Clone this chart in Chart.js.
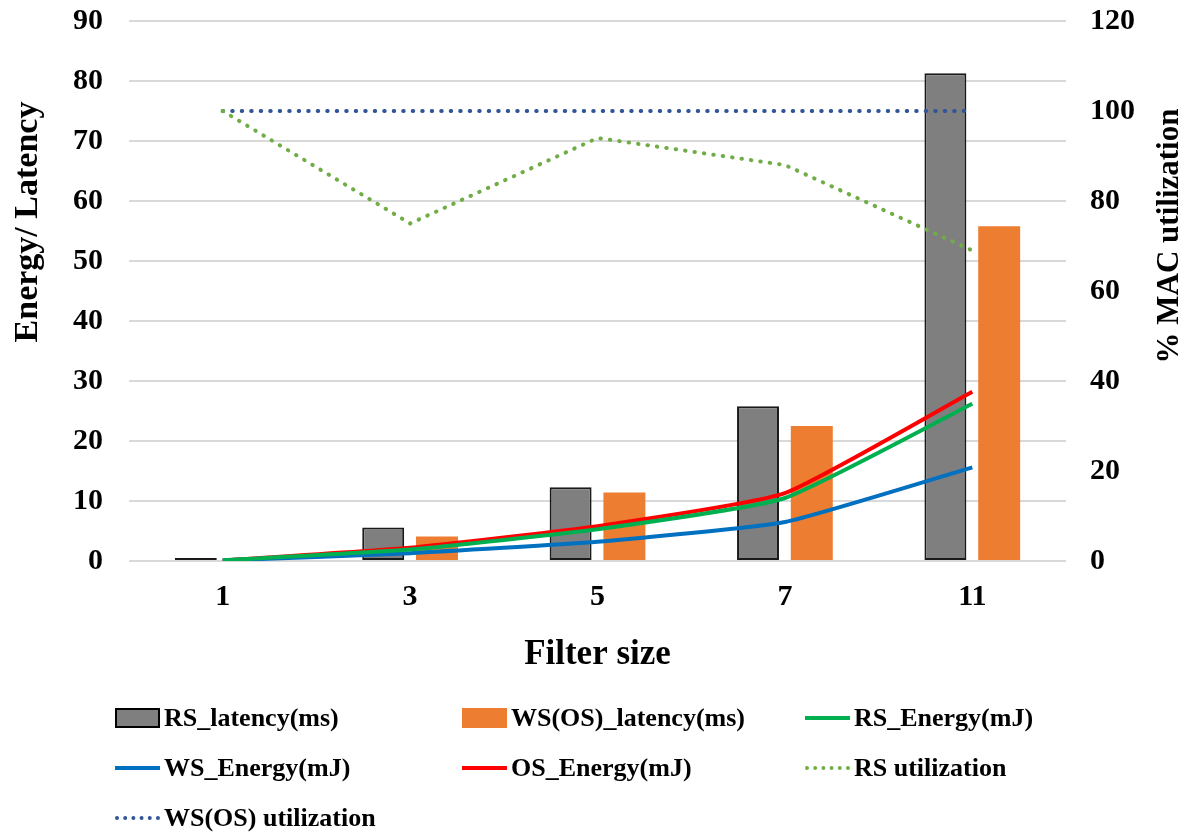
<!DOCTYPE html>
<html>
<head>
<meta charset="utf-8">
<script src="https://cdn.jsdelivr.net/npm/chart.js@4.4.1/dist/chart.umd.min.js"></script>
<style>
  html, body { margin: 0; padding: 0; background: #fff; }
  #wrap { position: relative; width: 1192px; height: 833px; }
  #chart { position: absolute; left: 0; top: 0; }
  .legend { position: absolute; left: 0; top: 0; width: 1192px; height: 833px; pointer-events: none;
            font-family: "Liberation Serif", "Times New Roman", serif; font-weight: bold; font-size: 26px; color: #000; }
  .item { position: absolute; display: flex; align-items: center; height: 40px; white-space: nowrap; }
  .sw { width: 45px; margin-right: 4px; box-sizing: border-box; }
  .box { height: 20px; }
  .solid { height: 0; border-top: 4px solid; }
  .dots { height: 0; border-top: 4px dotted; }
</style>
</head>
<body>
<div id="wrap">
  <canvas id="chart" width="1192" height="690"></canvas>
  <div class="legend" id="legend"></div>
</div>
<script>
const filterSizes = ['1', '3', '5', '7', '11']

// latency bars (ms), left axis
const rsLatency = [0.5, 5.6, 12.3, 25.8, 81.3]
const wsLatency = [0, 4.1, 11.4, 22.5, 55.8]

// energy lines (mJ), left axis
const rsEnergy = [0.1, 1.9, 5.3, 10.5, 26.2]
const wsEnergy = [0.1, 1.3, 3.2, 6.5, 15.6]
const osEnergy = [0.1, 2.2, 5.8, 11.3, 28.2]

// MAC utilization (%), right axis
const rsUtil = [100, 75, 94, 88, 69]
const wsUtil = [100, 100, 100, 100, 100]

const serif = '"Liberation Serif", "Times New Roman", serif'

const seriesStyle = [
    { label: 'RS_latency(ms)', color: '#7f7f7f', kind: 'box', border: '#000' },
    { label: 'WS(OS)_latency(ms)', color: '#ed7d31', kind: 'box' },
    { label: 'RS_Energy(mJ)', color: '#00b050', kind: 'solid' },
    { label: 'WS_Energy(mJ)', color: '#0070c0', kind: 'solid' },
    { label: 'OS_Energy(mJ)', color: '#ff0000', kind: 'solid' },
    { label: 'RS utilization', color: '#70ad47', kind: 'dots' },
    { label: 'WS(OS) utilization', color: '#2f5597', kind: 'dots' }
]

const energyLine = (label, data, color) => ({
    type: 'line', label, data, yAxisID: 'y', order: 1,
    borderColor: color, backgroundColor: color, borderWidth: 4,
    pointRadius: 0, tension: 0.15, fill: false
})

const utilLine = (label, data, color) => ({
    type: 'line', label, data, yAxisID: 'y1', order: 0,
    borderColor: color, backgroundColor: color, borderWidth: 4,
    borderDash: [0.5, 9], borderCapStyle: 'round',
    pointRadius: 0, tension: 0, fill: false
})

// rotated axis titles, both reading bottom-to-top
const sideTitles = {
    id: 'sideTitles',
    afterDraw(chart) {
        const ctx = chart.ctx
        const put = (text, x, y, size) => {
            ctx.save()
            ctx.translate(x, y)
            ctx.rotate(-Math.PI / 2)
            ctx.font = 'bold ' + size + 'px ' + serif
            ctx.fillStyle = '#000'
            ctx.textAlign = 'center'
            ctx.textBaseline = 'middle'
            ctx.fillText(text, 0, 0)
            ctx.restore()
        }
        put('Energy/ Latency', 28, 222, 34)
        put('% MAC utilization', 1170, 236, 31)
    }
}

// fixed side widths, no extra room for half-height edge labels
const fixWidth = (w) => (s) => { s.width = w; s.paddingTop = 0; s.paddingBottom = 0 }

new Chart(document.getElementById('chart'), {
    data: {
        labels: filterSizes,
        datasets: [
            {
                type: 'bar', label: 'RS_latency(ms)', data: rsLatency, yAxisID: 'y', order: 2,
                backgroundColor: '#7f7f7f', borderColor: '#1a1a1a', borderWidth: 2, borderSkipped: false,
                barPercentage: 0.78, categoryPercentage: 0.574
            },
            {
                type: 'bar', label: 'WS(OS)_latency(ms)', data: wsLatency, yAxisID: 'y', order: 2,
                backgroundColor: '#ed7d31', borderWidth: 0,
                barPercentage: 0.78, categoryPercentage: 0.574
            },
            energyLine('RS_Energy(mJ)', rsEnergy, '#00b050'),
            energyLine('WS_Energy(mJ)', wsEnergy, '#0070c0'),
            energyLine('OS_Energy(mJ)', osEnergy, '#ff0000'),
            utilLine('RS utilization', rsUtil, '#70ad47'),
            utilLine('WS(OS) utilization', wsUtil, '#2f5597')
        ]
    },
    options: {
        responsive: false,
        animation: false,
        layout: { padding: { top: 21, left: 0, right: 0, bottom: 0 } },
        plugins: { legend: { display: false }, tooltip: { enabled: false } },
        scales: {
            x: {
                offset: true,
                grid: { display: false, drawTicks: false },
                border: { display: false },
                ticks: { color: '#000', padding: 18, font: { family: serif, weight: 'bold', size: 30 } },
                title: { display: true, text: 'Filter size', color: '#000', padding: { bottom: 14 },
                         font: { family: serif, weight: 'bold', size: 35 } },
                afterFit: (s) => { s.height = 129; s.paddingLeft = 0; s.paddingRight = 0 }
            },
            y: {
                position: 'left', min: 0, max: 90,
                grid: { color: '#d9d9d9', lineWidth: 2, drawTicks: false },
                border: { display: false },
                ticks: { stepSize: 10, color: '#000', padding: 26, font: { family: serif, weight: 'bold', size: 30 } },
                afterFit: fixWidth(129)
            },
            y1: {
                position: 'right', min: 0, max: 120,
                grid: { display: false, drawTicks: false },
                border: { display: false },
                ticks: { stepSize: 20, color: '#000', padding: 24, font: { family: serif, weight: 'bold', size: 30 } },
                afterFit: fixWidth(126)
            }
        }
    },
    plugins: [sideTitles]
})

// legend laid out in three columns below the chart
const legendCols = [115, 462, 805]
const legendRows = [698, 748, 798]
const legend = document.getElementById('legend')
seriesStyle.forEach((s, i) => {
    const item = document.createElement('div')
    item.className = 'item'
    item.style.left = legendCols[i % 3] + 'px'
    item.style.top = legendRows[Math.floor(i / 3)] + 'px'
    const sw = document.createElement('span')
    sw.className = 'sw ' + s.kind
    if (s.kind === 'box') {
        sw.style.background = s.color
        if (s.border) sw.style.border = '2px solid ' + s.border
    } else {
        sw.style.borderTopColor = s.color
    }
    const txt = document.createElement('span')
    txt.textContent = s.label
    item.appendChild(sw)
    item.appendChild(txt)
    legend.appendChild(item)
})
</script>
</body>
</html>
